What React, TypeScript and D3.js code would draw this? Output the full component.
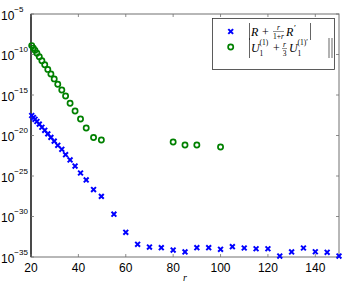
import { useEffect, useRef } from "react";
import * as d3 from "d3";

// shared r values of the first, densely sampled part
const rDense = [20.3, 21, 21.7, 22.5, 23.5, 24.6, 25.8, 27.1, 28.4, 29.8, 31.3, 33.0, 34.6, 36.5, 38.6, 40.9, 43.3, 46.4, 49.7];
// log10 of |R + r/(1+r) R'|
const blueR = [...rDense, 55, 60, 65, 70, 75, 80, 85, 90, 95, 100, 105, 110, 115, 120, 125, 130, 135, 140, 145, 150];
const blueLog = [
  -17.53, -17.78, -18.0, -18.27, -18.6, -18.98, -19.36, -19.8, -20.23, -20.7, -21.21, -21.7, -22.37, -23.02, -23.77, -24.63, -25.49, -26.67, -27.51,
  -29.72, -31.95, -33.43, -33.77, -33.85, -34.14, -34.38, -33.85, -33.85, -34.05, -33.73, -33.89, -33.98, -33.98, -34.88, -34.38, -33.89, -34.35, -34.42, -34.88,
];
// log10 of |U1^(1) + r/3 U1^(1)'|
const greenR = [...rDense, 80, 85, 90, 100];
const greenLog = [
  -8.9, -9.21, -9.49, -9.85, -10.28, -10.77, -11.27, -11.84, -12.41, -13.01, -13.67, -14.38, -15.12, -16.02, -16.98, -17.96, -19.07, -20.25, -20.56,
  -20.8, -21.17, -21.17, -21.42,
];
const xTicks = [20, 40, 60, 80, 100, 120, 140];
const yTickExp = [-5, -10, -15, -20, -25, -30, -35];

const W = 346;
const H = 284;
const blue = "#0000ff";
const green = "#008000";
const sans = "'Liberation Sans', Arial, sans-serif";
const serif = "'Liberation Serif', 'Times New Roman', serif";

export default function App() {
  const svgRef = useRef<SVGSVGElement | null>(null);

  useEffect(() => {
    const svg = d3.select(svgRef.current);
    svg.selectAll("*").remove();

    const left = 31, right = 339, top = 14, bottom = 257;
    const x = d3.scaleLinear().domain([20, 150]).range([left, right]);
    const y = d3.scaleLog().domain([1e-35, 1e-5]).range([bottom, top]);

    // box
    const axisColor = "#707070";
    svg.append("rect")
      .attr("x", left).attr("y", top)
      .attr("width", right - left).attr("height", bottom - top)
      .attr("fill", "white").attr("stroke", axisColor).attr("stroke-width", 1);
    svg.append("line")
      .attr("x1", left).attr("x2", left).attr("y1", top).attr("y2", bottom)
      .attr("stroke", "#000").attr("stroke-width", 1.2);

    const tl = 3;
    const ticks = svg.append("g").attr("stroke", axisColor).attr("stroke-width", 0.8);
    xTicks.forEach(t => {
      ticks.append("line").attr("x1", x(t)).attr("x2", x(t)).attr("y1", bottom).attr("y2", bottom - tl);
      ticks.append("line").attr("x1", x(t)).attr("x2", x(t)).attr("y1", top).attr("y2", top + tl);
    });
    yTickExp.forEach(e => {
      const yy = y(Math.pow(10, e));
      ticks.append("line").attr("x1", left).attr("x2", left + tl).attr("y1", yy).attr("y2", yy);
      ticks.append("line").attr("x1", right).attr("x2", right - tl).attr("y1", yy).attr("y2", yy);
    });

    // tick labels
    svg.append("g")
      .selectAll("text")
      .data(xTicks)
      .enter()
      .append("text")
      .attr("x", d => x(d))
      .attr("y", bottom + 15)
      .attr("text-anchor", "middle")
      .style("font", `12px ${sans}`)
      .text(d => d);

    const yl = svg.append("g").style("font-family", sans).attr("fill", "#000");
    yTickExp.forEach(e => {
      const yy = y(Math.pow(10, e));
      const t = yl.append("text").attr("x", 1).attr("y", yy + 5.5).style("font-size", "12px");
      t.append("tspan").text("10");
      t.append("tspan").attr("dy", -8).style("font-size", "8px").text(`\u2212${-e}`);
    });

    svg.append("text")
      .attr("x", x(85)).attr("y", 281)
      .attr("text-anchor", "middle")
      .style("font", `italic 10px ${serif}`)
      .text("r");

    // markers
    const cs = 2.4;
    const crossPath = `M${-cs},${-cs}L${cs},${cs}M${-cs},${cs}L${cs},${-cs}`;
    svg.append("g")
      .selectAll("path")
      .data(blueR.map((r, i) => [r, blueLog[i]]))
      .enter()
      .append("path")
      .attr("transform", d => `translate(${x(d[0])},${y(Math.pow(10, d[1]))})`)
      .attr("d", crossPath)
      .attr("stroke", blue)
      .attr("stroke-width", 2);

    svg.append("g")
      .selectAll("circle")
      .data(greenR.map((r, i) => [r, greenLog[i]]))
      .enter()
      .append("circle")
      .attr("cx", d => x(d[0]))
      .attr("cy", d => y(Math.pow(10, d[1])))
      .attr("r", 2.6)
      .attr("fill", "none")
      .attr("stroke", green)
      .attr("stroke-width", 1.7);

    // legend
    const lg = svg.append("g");
    lg.append("rect")
      .attr("x", 212.5).attr("y", 18.5).attr("width", 122).attr("height", 51)
      .attr("fill", "white").attr("stroke", "#333").attr("stroke-width", 0.8);
    lg.append("path")
      .attr("transform", "translate(230.7,31.5)")
      .attr("d", crossPath).attr("stroke", blue).attr("stroke-width", 2);
    lg.append("circle")
      .attr("cx", 230.7).attr("cy", 47).attr("r", 2.6)
      .attr("fill", "none").attr("stroke", green).attr("stroke-width", 1.7);

    const bar = (bx: number, y1: number, y2: number) =>
      lg.append("line").attr("x1", bx).attr("x2", bx).attr("y1", y1).attr("y2", y2)
        .attr("stroke", "#222").attr("stroke-width", 0.7);
    const txt = (tx: number, ty: number, s: string, size: number, italic = true, anchor = "start") =>
      lg.append("text").attr("x", tx).attr("y", ty).attr("text-anchor", anchor)
        .style("font", `${italic ? "italic " : ""}${size}px ${serif}`).text(s);
    const frac = (cx: number, ly: number, num: string, den: string, w: number) => {
      txt(cx, ly - 2, num, 7.5, num === "r", "middle");
      lg.append("line").attr("x1", cx - w / 2).attr("x2", cx + w / 2).attr("y1", ly).attr("y2", ly)
        .attr("stroke", "#222").attr("stroke-width", 0.5);
      const d = txt(cx, ly + 7, "", 7.5, false, "middle");
      if (den === "1+r") {
        d.append("tspan").text("1+");
        d.append("tspan").style("font-style", "italic").text("r");
      } else {
        d.text(den);
      }
    };

    // row 1: |R + r/(1+r) R'|
    bar(249.5, 23, 40);
    txt(251, 35.5, "R", 12);
    txt(262, 35.5, "+", 12, false);
    frac(278.5, 31.5, "r", "1+r", 11);
    txt(286, 35.5, "R", 12);
    txt(294, 31, "\u2032", 9, false);
    bar(310.5, 23, 40);

    // row 2: |U1^(1) + r/3 U1^(1)'|
    bar(249.5, 38, 58);
    txt(251, 52, "U", 12);
    txt(259.5, 55.5, "1", 7.5, false);
    txt(259.5, 45, "(1)", 7.5, false);
    txt(273, 52, "+", 12, false);
    frac(284.5, 48.5, "r", "3", 5);
    txt(289, 52, "U", 12);
    txt(297.5, 55.5, "1", 7.5, false);
    txt(297.5, 45, "(1)\u2032", 7.5, false);
    bar(329, 38, 58);
    bar(332, 38, 58);
  }, []);

  return (
    <svg ref={svgRef} width={W} height={H}
      style={{ position: "absolute", left: 0, top: 0, background: "white" }} />
  );
}
